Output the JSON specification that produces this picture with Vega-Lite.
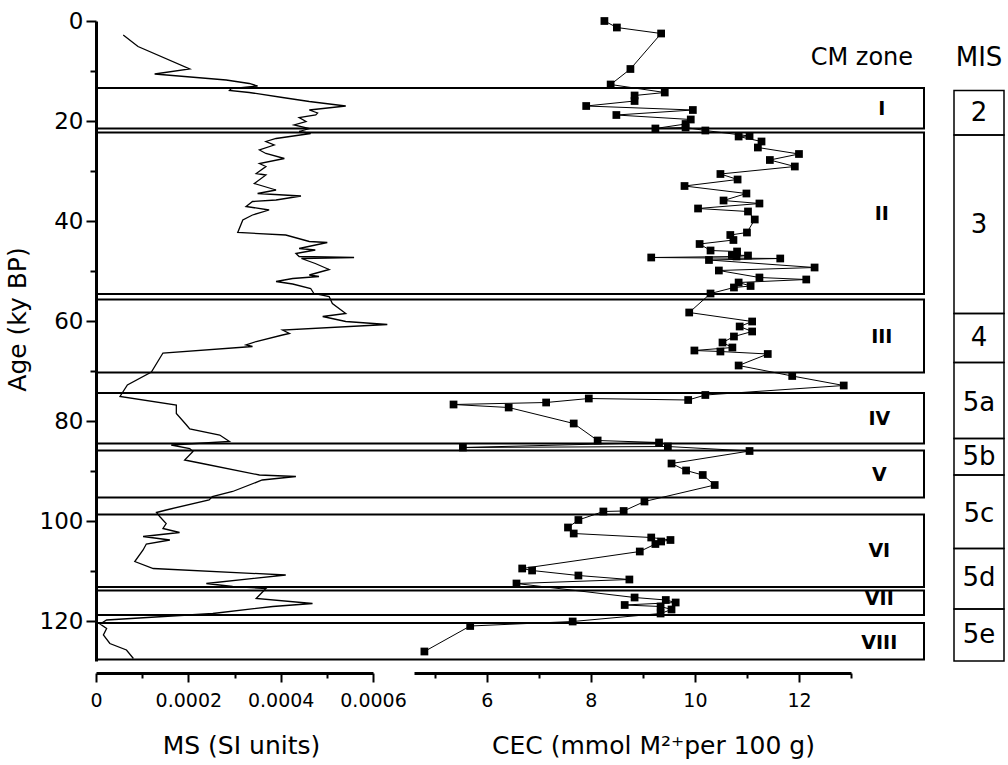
{
  "$schema": "https://vega.github.io/schema/vega-lite/v6.json",
  "width": 909,
  "height": 640,
  "autosize": {"type": "none"},
  "padding": {"left": 96, "top": 21, "right": 3, "bottom": 104},
  "background": "white",
  "config": {
    "view": {"stroke": null},
    "font": "DejaVu Sans",
    "axis": {"grid": false, "domainColor": "black", "tickColor": "black", "labelColor": "black", "titleColor": "black", "titleFontWeight": "normal", "labelOverlap": false, "labelFlush": false}
  },
  "datasets": {
    "ms": [
      {"age": 2.8, "ms": 0.000059}, {"age": 5.1, "ms": 0.000091}, {"age": 9.6, "ms": 0.000203}, {"age": 10.6, "ms": 0.000127},
      {"age": 11.8, "ms": 0.000282}, {"age": 12.5, "ms": 0.000332}, {"age": 13.0, "ms": 0.00035}, {"age": 13.5, "ms": 0.000293},
      {"age": 13.9, "ms": 0.000289}, {"age": 14.3, "ms": 0.000332}, {"age": 15.3, "ms": 0.000404}, {"age": 16.1, "ms": 0.000462},
      {"age": 17.0, "ms": 0.000541}, {"age": 17.8, "ms": 0.000462}, {"age": 18.4, "ms": 0.00048}, {"age": 18.8, "ms": 0.000476},
      {"age": 19.3, "ms": 0.00044}, {"age": 20.1, "ms": 0.000455}, {"age": 20.8, "ms": 0.000429}, {"age": 21.5, "ms": 0.000462},
      {"age": 22.1, "ms": 0.00044}, {"age": 22.5, "ms": 0.000465}, {"age": 23.5, "ms": 0.00039}, {"age": 24.1, "ms": 0.000368},
      {"age": 24.8, "ms": 0.000386}, {"age": 25.8, "ms": 0.000354}, {"age": 26.5, "ms": 0.000368}, {"age": 27.5, "ms": 0.000408},
      {"age": 28.5, "ms": 0.000354}, {"age": 29.1, "ms": 0.000368}, {"age": 30.5, "ms": 0.000347}, {"age": 30.8, "ms": 0.000368},
      {"age": 32.5, "ms": 0.000343}, {"age": 33.8, "ms": 0.00039}, {"age": 34.5, "ms": 0.00035}, {"age": 35.0, "ms": 0.000444},
      {"age": 35.8, "ms": 0.00039}, {"age": 36.1, "ms": 0.000339}, {"age": 37.1, "ms": 0.000325}, {"age": 37.8, "ms": 0.000375},
      {"age": 38.8, "ms": 0.000339}, {"age": 39.8, "ms": 0.000318}, {"age": 42.3, "ms": 0.000307}, {"age": 42.8, "ms": 0.000411},
      {"age": 44.1, "ms": 0.000462}, {"age": 44.3, "ms": 0.000501}, {"age": 45.5, "ms": 0.00044}, {"age": 45.8, "ms": 0.000475},
      {"age": 46.5, "ms": 0.000433}, {"age": 47.1, "ms": 0.00044}, {"age": 47.3, "ms": 0.000559}, {"age": 47.5, "ms": 0.000445},
      {"age": 48.5, "ms": 0.000475}, {"age": 49.7, "ms": 0.000505}, {"age": 50.8, "ms": 0.000462}, {"age": 51.1, "ms": 0.000483},
      {"age": 51.5, "ms": 0.000426}, {"age": 52.1, "ms": 0.00039}, {"age": 52.6, "ms": 0.000426}, {"age": 53.5, "ms": 0.000465},
      {"age": 54.5, "ms": 0.000472}, {"age": 55.1, "ms": 0.000505}, {"age": 56.5, "ms": 0.000512}, {"age": 58.5, "ms": 0.000541},
      {"age": 59.1, "ms": 0.000491}, {"age": 60.1, "ms": 0.000541}, {"age": 60.7, "ms": 0.000631}, {"age": 61.8, "ms": 0.000404},
      {"age": 62.5, "ms": 0.000419}, {"age": 62.8, "ms": 0.000404}, {"age": 64.1, "ms": 0.000347}, {"age": 64.8, "ms": 0.000325},
      {"age": 65.1, "ms": 0.000339}, {"age": 66.4, "ms": 0.000145}, {"age": 70.2, "ms": 0.00012}, {"age": 72.8, "ms": 0.000068},
      {"age": 75.1, "ms": 0.000052}, {"age": 76.8, "ms": 0.000174}, {"age": 77.8, "ms": 0.000174}, {"age": 78.5, "ms": 0.000174},
      {"age": 80.8, "ms": 0.000196}, {"age": 81.6, "ms": 0.000203}, {"age": 82.8, "ms": 0.000268}, {"age": 84.1, "ms": 0.000289},
      {"age": 84.8, "ms": 0.000163}, {"age": 85.5, "ms": 0.000203}, {"age": 86.1, "ms": 0.00021}, {"age": 87.8, "ms": 0.000192},
      {"age": 88.5, "ms": 0.00023}, {"age": 90.8, "ms": 0.000354}, {"age": 91.1, "ms": 0.000433}, {"age": 91.8, "ms": 0.00036},
      {"age": 94.1, "ms": 0.000296}, {"age": 95.1, "ms": 0.000252}, {"age": 95.8, "ms": 0.000245}, {"age": 97.8, "ms": 0.000152},
      {"age": 98.3, "ms": 0.000131}, {"age": 99.1, "ms": 0.000138}, {"age": 100.5, "ms": 0.000152}, {"age": 101.5, "ms": 0.000145},
      {"age": 102.3, "ms": 0.000181}, {"age": 103.1, "ms": 0.000102}, {"age": 103.8, "ms": 0.00016}, {"age": 104.6, "ms": 0.000109},
      {"age": 105.8, "ms": 0.000102}, {"age": 108.1, "ms": 0.000084}, {"age": 109.5, "ms": 0.000124}, {"age": 110.8, "ms": 0.000411},
      {"age": 112.5, "ms": 0.000239}, {"age": 113.1, "ms": 0.000296}, {"age": 113.5, "ms": 0.000368}, {"age": 115.5, "ms": 0.000347},
      {"age": 116.5, "ms": 0.000469}, {"age": 117.1, "ms": 0.000383}, {"age": 118.5, "ms": 0.000253}, {"age": 119.8, "ms": 0.000023},
      {"age": 120.6, "ms": 0.000009}, {"age": 121.5, "ms": 0.000023}, {"age": 122.8, "ms": 0.000016}, {"age": 124.5, "ms": 0.00003},
      {"age": 125.8, "ms": 0.000066}, {"age": 127.5, "ms": 0.000081}
    ],
    "cec": [
      {"n": 1, "age": 0.0, "cec": 8.26}, {"n": 2, "age": 1.3, "cec": 8.5}, {"n": 3, "age": 2.5, "cec": 9.35}, {"n": 4, "age": 9.6, "cec": 8.76},
      {"n": 5, "age": 12.7, "cec": 8.38}, {"n": 6, "age": 14.3, "cec": 9.42}, {"n": 7, "age": 14.9, "cec": 8.84}, {"n": 8, "age": 16.0, "cec": 8.84},
      {"n": 9, "age": 17.0, "cec": 7.91}, {"n": 10, "age": 17.8, "cec": 9.96}, {"n": 11, "age": 18.8, "cec": 8.49}, {"n": 12, "age": 19.7, "cec": 9.92},
      {"n": 13, "age": 20.6, "cec": 9.82}, {"n": 14, "age": 21.5, "cec": 9.24}, {"n": 15, "age": 21.3, "cec": 9.82}, {"n": 16, "age": 21.9, "cec": 10.2},
      {"n": 17, "age": 23.0, "cec": 11.05}, {"n": 18, "age": 23.1, "cec": 10.84}, {"n": 19, "age": 24.1, "cec": 11.28}, {"n": 20, "age": 25.3, "cec": 11.21},
      {"n": 21, "age": 26.6, "cec": 12.0}, {"n": 22, "age": 27.8, "cec": 11.44}, {"n": 23, "age": 29.1, "cec": 11.92}, {"n": 24, "age": 30.6, "cec": 10.49},
      {"n": 25, "age": 31.7, "cec": 10.82}, {"n": 26, "age": 33.0, "cec": 9.8}, {"n": 27, "age": 34.5, "cec": 10.99}, {"n": 28, "age": 35.9, "cec": 10.55},
      {"n": 29, "age": 36.5, "cec": 11.24}, {"n": 30, "age": 37.5, "cec": 10.06}, {"n": 31, "age": 38.1, "cec": 11.02}, {"n": 32, "age": 39.7, "cec": 11.15},
      {"n": 33, "age": 42.3, "cec": 11.0}, {"n": 34, "age": 42.8, "cec": 10.68}, {"n": 35, "age": 43.8, "cec": 10.74}, {"n": 36, "age": 44.6, "cec": 10.09},
      {"n": 37, "age": 45.9, "cec": 10.3}, {"n": 38, "age": 46.1, "cec": 10.81}, {"n": 39, "age": 46.8, "cec": 10.71}, {"n": 40, "age": 46.9, "cec": 11.02},
      {"n": 41, "age": 47.1, "cec": 10.8}, {"n": 42, "age": 47.3, "cec": 9.16}, {"n": 43, "age": 47.5, "cec": 11.64}, {"n": 44, "age": 47.8, "cec": 10.27},
      {"n": 45, "age": 49.3, "cec": 12.3}, {"n": 46, "age": 49.9, "cec": 10.46}, {"n": 47, "age": 51.3, "cec": 11.24}, {"n": 48, "age": 51.7, "cec": 12.14},
      {"n": 49, "age": 52.3, "cec": 10.84}, {"n": 50, "age": 53.0, "cec": 11.07}, {"n": 51, "age": 53.3, "cec": 10.75}, {"n": 52, "age": 54.5, "cec": 10.3},
      {"n": 53, "age": 58.3, "cec": 9.89}, {"n": 54, "age": 60.1, "cec": 11.1}, {"n": 55, "age": 61.1, "cec": 10.86}, {"n": 56, "age": 62.1, "cec": 11.1},
      {"n": 57, "age": 63.1, "cec": 10.75}, {"n": 58, "age": 64.3, "cec": 10.53}, {"n": 59, "age": 65.3, "cec": 10.72}, {"n": 60, "age": 65.9, "cec": 9.99},
      {"n": 61, "age": 66.1, "cec": 10.49}, {"n": 62, "age": 66.6, "cec": 11.4}, {"n": 63, "age": 68.9, "cec": 10.84}, {"n": 64, "age": 71.0, "cec": 11.87},
      {"n": 65, "age": 72.9, "cec": 12.86}, {"n": 66, "age": 74.8, "cec": 10.2}, {"n": 67, "age": 75.8, "cec": 9.87}, {"n": 68, "age": 75.5, "cec": 7.96},
      {"n": 69, "age": 76.3, "cec": 7.14}, {"n": 70, "age": 76.7, "cec": 5.36}, {"n": 71, "age": 77.3, "cec": 6.42}, {"n": 72, "age": 80.5, "cec": 7.67},
      {"n": 73, "age": 83.9, "cec": 8.13}, {"n": 74, "age": 84.3, "cec": 9.31}, {"n": 75, "age": 85.3, "cec": 5.54}, {"n": 76, "age": 85.1, "cec": 9.48},
      {"n": 77, "age": 86.0, "cec": 11.05}, {"n": 78, "age": 88.5, "cec": 9.55}, {"n": 79, "age": 89.9, "cec": 9.83}, {"n": 80, "age": 90.8, "cec": 10.15},
      {"n": 81, "age": 92.8, "cec": 10.38}, {"n": 82, "age": 96.1, "cec": 9.03}, {"n": 83, "age": 98.0, "cec": 8.63}, {"n": 84, "age": 98.1, "cec": 8.24},
      {"n": 85, "age": 99.8, "cec": 7.76}, {"n": 86, "age": 101.3, "cec": 7.56}, {"n": 87, "age": 102.5, "cec": 7.67}, {"n": 88, "age": 103.3, "cec": 9.16},
      {"n": 89, "age": 103.8, "cec": 9.53}, {"n": 90, "age": 104.1, "cec": 9.35}, {"n": 91, "age": 104.6, "cec": 9.24}, {"n": 92, "age": 106.1, "cec": 8.94},
      {"n": 93, "age": 109.5, "cec": 6.68}, {"n": 94, "age": 109.9, "cec": 6.87}, {"n": 95, "age": 110.9, "cec": 7.76}, {"n": 96, "age": 111.7, "cec": 8.74},
      {"n": 97, "age": 112.5, "cec": 6.57}, {"n": 98, "age": 115.3, "cec": 8.84}, {"n": 99, "age": 115.8, "cec": 9.44}, {"n": 100, "age": 116.3, "cec": 9.63},
      {"n": 101, "age": 116.8, "cec": 8.65}, {"n": 102, "age": 117.1, "cec": 9.34}, {"n": 103, "age": 117.7, "cec": 9.55}, {"n": 104, "age": 118.5, "cec": 9.34},
      {"n": 105, "age": 120.1, "cec": 7.65}, {"n": 106, "age": 121.0, "cec": 5.68}, {"n": 107, "age": 126.1, "cec": 4.8}
    ],
    "zones": [
      {"zone": "I", "age": 13.4, "age2": 21.5, "x0": 0, "x1": 1},
      {"zone": "II", "age": 22.3, "age2": 54.6, "x0": 0, "x1": 1},
      {"zone": "III", "age": 55.7, "age2": 70.3, "x0": 0, "x1": 1},
      {"zone": "IV", "age": 74.4, "age2": 84.5, "x0": 0, "x1": 1},
      {"zone": "V", "age": 85.9, "age2": 95.3, "x0": 0, "x1": 1},
      {"zone": "VI", "age": 98.7, "age2": 113.2, "x0": 0, "x1": 1},
      {"zone": "VII", "age": 113.9, "age2": 118.8, "x0": 0, "x1": 1},
      {"zone": "VIII", "age": 120.4, "age2": 127.7, "x0": 0, "x1": 1}
    ],
    "zonelabels": [
      {"txt": "I", "age": 17.6, "xp": 0.949},
      {"txt": "II", "age": 38.6, "xp": 0.949},
      {"txt": "III", "age": 63.2, "xp": 0.949},
      {"txt": "IV", "age": 79.6, "xp": 0.946},
      {"txt": "V", "age": 90.8, "xp": 0.946},
      {"txt": "VI", "age": 106.0, "xp": 0.946},
      {"txt": "VII", "age": 115.6, "xp": 0.946},
      {"txt": "VIII", "age": 124.4, "xp": 0.946}
    ],
    "headers": [
      {"txt": "CM zone", "age": 7.4, "xp": 0.925}
    ],
    "mis": [
      {"mis": "2", "age": 13.9, "age2": 22.8, "x0": 0, "x1": 1},
      {"mis": "3", "age": 22.8, "age2": 58.5, "x0": 0, "x1": 1},
      {"mis": "4", "age": 58.5, "age2": 68.3, "x0": 0, "x1": 1},
      {"mis": "5a", "age": 68.3, "age2": 83.5, "x0": 0, "x1": 1},
      {"mis": "5b", "age": 83.5, "age2": 90.8, "x0": 0, "x1": 1},
      {"mis": "5c", "age": 90.8, "age2": 105.5, "x0": 0, "x1": 1},
      {"mis": "5d", "age": 105.5, "age2": 117.6, "x0": 0, "x1": 1},
      {"mis": "5e", "age": 117.6, "age2": 128.0, "x0": 0, "x1": 1}
    ],
    "mislabels": [
      {"txt": "MIS", "age": 7.4, "xp": 0.5},
      {"txt": "2", "age": 18.4, "xp": 0.5},
      {"txt": "3", "age": 40.8, "xp": 0.5},
      {"txt": "4", "age": 63.4, "xp": 0.5},
      {"txt": "5a", "age": 76.4, "xp": 0.5},
      {"txt": "5b", "age": 87.2, "xp": 0.5},
      {"txt": "5c", "age": 98.6, "xp": 0.5},
      {"txt": "5d", "age": 111.4, "xp": 0.5},
      {"txt": "5e", "age": 122.8, "xp": 0.5}
    ]
  },
  "encoding": {
    "y": {
      "field": "age", "type": "quantitative",
      "scale": {"domain": [0, 128], "reverse": true, "nice": false, "zero": false},
      "axis": {
        "title": "Age (ky BP)", "titleY": 298,
        "values": [0, 10, 20, 30, 40, 50, 60, 70, 80, 90, 100, 110, 120],
        "labelExpr": "datum.value % 20 == 0 ? datum.label : ''",
        "tickSize": {"condition": {"test": "datum.value % 20 == 0", "value": 10}, "value": 6},
        "tickWidth": 2, "domainWidth": 3,
        "labelFontSize": 23, "titleFontSize": 25,
        "labelPadding": 3, "titlePadding": 9
      }
    }
  },
  "layer": [
    {
      "data": {"name": "zones"},
      "mark": {"type": "rect", "fill": "white", "fillOpacity": 0, "stroke": "black", "strokeWidth": 2},
      "encoding": {
        "x": {"field": "x0", "type": "quantitative", "scale": {"domain": [0, 1], "range": [0, 828], "nice": false, "zero": false}, "axis": null},
        "x2": {"field": "x1"},
        "y2": {"field": "age2"}
      }
    },
    {
      "data": {"name": "ms"},
      "mark": {"type": "line", "color": "black", "strokeWidth": 1.3},
      "encoding": {
        "x": {
          "field": "ms", "type": "quantitative",
          "scale": {"domain": [0, 0.0006], "range": [0, 277], "nice": false, "zero": false},
          "axis": {
            "orient": "bottom", "offset": 12, "title": "MS (SI units)", "titleX": 145,
            "values": [0, 0.0001, 0.0002, 0.0003, 0.0004, 0.0005, 0.0006],
            "labelExpr": "round(datum.value * 10000) % 2 == 0 ? (datum.value == 0 ? '0' : format(datum.value, '.4f')) : ''",
            "tickSize": {"condition": {"test": "round(datum.value * 10000) % 2 == 0", "value": 9}, "value": 5},
            "tickWidth": 2, "domainWidth": 3,
            "labelFontSize": 19, "titleFontSize": 25, "labelPadding": 9, "titlePadding": 23
          }
        },
        "order": {"field": "age", "type": "quantitative"}
      }
    },
    {
      "data": {"name": "cec"},
      "mark": {"type": "line", "color": "black", "strokeWidth": 1, "point": {"shape": "square", "size": 60, "filled": true, "color": "black", "opacity": 1}},
      "encoding": {
        "x": {
          "field": "cec", "type": "quantitative",
          "scale": {"domain": [4.6, 13], "range": [318, 755], "nice": false, "zero": false},
          "axis": {
            "orient": "bottom", "offset": 12, "title": "CEC (mmol M²⁺per 100 g)", "titleX": 557,
            "values": [5, 6, 7, 8, 9, 10, 11, 12, 13],
            "labelExpr": "datum.value % 2 == 0 ? datum.label : ''",
            "tickSize": {"condition": {"test": "datum.value % 2 == 0", "value": 9}, "value": 5},
            "tickWidth": 2, "domainWidth": 3,
            "labelFontSize": 19, "titleFontSize": 25, "labelPadding": 9, "titlePadding": 23
          }
        },
        "order": {"field": "n", "type": "quantitative"}
      }
    },
    {
      "data": {"name": "zonelabels"},
      "mark": {"type": "text", "fontWeight": "bold", "fontSize": 19, "color": "black", "align": "center", "baseline": "middle"},
      "encoding": {
        "x": {"field": "xp", "type": "quantitative", "scale": {"domain": [0, 1], "range": [0, 828], "nice": false, "zero": false}, "axis": null},
        "text": {"field": "txt"}
      }
    },
    {
      "data": {"name": "headers"},
      "mark": {"type": "text", "fontSize": 24, "color": "black", "align": "center", "baseline": "middle"},
      "encoding": {
        "x": {"field": "xp", "type": "quantitative", "scale": {"domain": [0, 1], "range": [0, 828], "nice": false, "zero": false}, "axis": null},
        "text": {"field": "txt"}
      }
    },
    {
      "data": {"name": "mis"},
      "mark": {"type": "rect", "fill": "white", "fillOpacity": 0, "stroke": "black", "strokeWidth": 1.5},
      "encoding": {
        "x": {"field": "x0", "type": "quantitative", "scale": {"domain": [0, 1], "range": [858, 908], "nice": false, "zero": false}, "axis": null},
        "x2": {"field": "x1"},
        "y2": {"field": "age2"}
      }
    },
    {
      "data": {"name": "mislabels"},
      "mark": {"type": "text", "fontSize": 26, "color": "black", "align": "center", "baseline": "middle"},
      "encoding": {
        "x": {"field": "xp", "type": "quantitative", "scale": {"domain": [0, 1], "range": [858, 908], "nice": false, "zero": false}, "axis": null},
        "text": {"field": "txt"}
      }
    }
  ],
  "resolve": {"scale": {"x": "independent"}, "axis": {"x": "independent"}}
}
